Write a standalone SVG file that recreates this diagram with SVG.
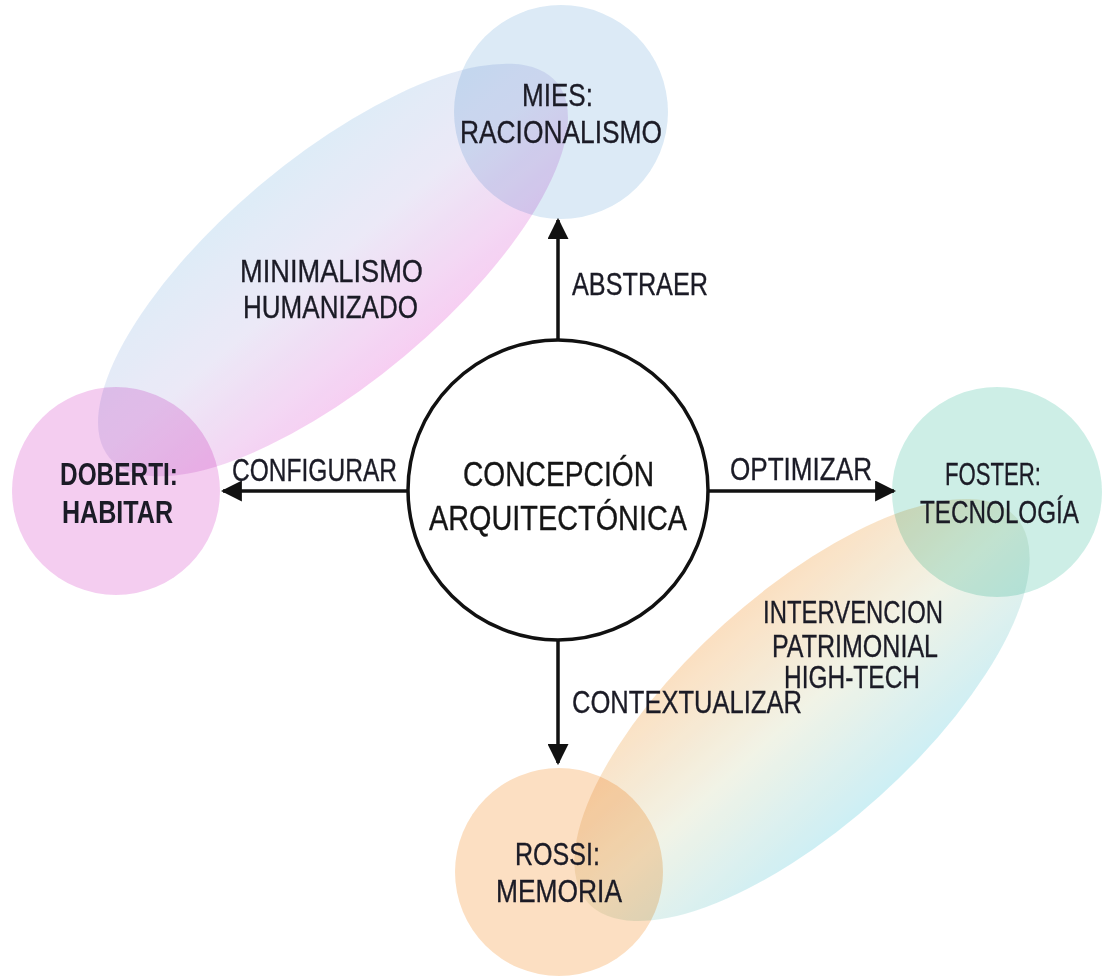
<svg xmlns="http://www.w3.org/2000/svg" width="1103" height="980" viewBox="0 0 1103 980">
  <defs>
    <linearGradient id="gradMin" gradientUnits="objectBoundingBox" x1="0" y1="0" x2="0" y2="1">
      <stop offset="0" stop-color="#d8e9f6"/>
      <stop offset="0.45" stop-color="#e8e6f6"/>
      <stop offset="1" stop-color="#f6c6f0"/>
    </linearGradient>
    <linearGradient id="gradTech" gradientUnits="objectBoundingBox" x1="0" y1="0" x2="0" y2="1">
      <stop offset="0" stop-color="#fbdab6"/>
      <stop offset="0.5" stop-color="#eff1e2"/>
      <stop offset="1" stop-color="#c4ecf3"/>
    </linearGradient>
    <marker id="arrow" viewBox="0 0 10 10" refX="9" refY="5" markerWidth="6" markerHeight="6" markerUnits="strokeWidth" orient="auto">
      <path d="M0,0 L10,5 L0,10 z" fill="#111"/>
    </marker>
    <style>
      .blob { mix-blend-mode: multiply; }
      .label { font-family: "Liberation Sans", Arial, sans-serif; font-size: 32px; fill: #1b1b26; stroke: #1b1b26; stroke-width: 0.35; }
      .bold { font-weight: bold; stroke-width: 0; }
      .center { font-size: 35px; fill: #151515; stroke: #151515; }
      .conn { stroke: #111; stroke-width: 3.5; fill: none; marker-end: url(#arrow); }
    </style>
  </defs>

  <rect width="1103" height="980" fill="#ffffff"/>

  <!-- overlapping theme zones -->
  <g id="zone-minimalismo">
    <ellipse class="blob" cx="333" cy="270" rx="292" ry="112" fill="url(#gradMin)" opacity="0.85" transform="rotate(-40 333 270)"/>
    <text class="label" x="240" y="282" textLength="183" lengthAdjust="spacingAndGlyphs">MINIMALISMO</text>
    <text class="label" x="243" y="318" textLength="175" lengthAdjust="spacingAndGlyphs">HUMANIZADO</text>
  </g>
  <g id="zone-hightech">
    <ellipse class="blob" cx="802" cy="710" rx="288" ry="116" fill="url(#gradTech)" opacity="0.85" transform="rotate(-42 802 710)"/>
    <text class="label" x="763" y="623" textLength="180" lengthAdjust="spacingAndGlyphs">INTERVENCION</text>
    <text class="label" x="772" y="657" textLength="166" lengthAdjust="spacingAndGlyphs">PATRIMONIAL</text>
    <text class="label" x="784" y="688" textLength="136" lengthAdjust="spacingAndGlyphs">HIGH-TECH</text>
  </g>

  <!-- architects -->
  <g id="node-mies">
    <circle class="blob" cx="561" cy="112" r="107" fill="#d8e8f5" opacity="0.9"/>
    <text class="label" x="522" y="106" textLength="71" lengthAdjust="spacingAndGlyphs">MIES:</text>
    <text class="label" x="460" y="143" textLength="202" lengthAdjust="spacingAndGlyphs">RACIONALISMO</text>
  </g>
  <g id="node-doberti">
    <circle class="blob" cx="116" cy="491" r="104" fill="#f3c8ef" opacity="0.9"/>
    <text class="label bold" x="60" y="485" textLength="118" lengthAdjust="spacingAndGlyphs">DOBERTI:</text>
    <text class="label bold" x="62" y="523" textLength="111" lengthAdjust="spacingAndGlyphs">HABITAR</text>
  </g>
  <g id="node-foster">
    <circle class="blob" cx="997" cy="492" r="105" fill="#c8ede4" opacity="0.9"/>
    <text class="label" x="945" y="485" textLength="96" lengthAdjust="spacingAndGlyphs">FOSTER:</text>
    <text class="label" x="920" y="523" textLength="159" lengthAdjust="spacingAndGlyphs">TECNOLOGÍA</text>
  </g>
  <g id="node-rossi">
    <circle class="blob" cx="559" cy="872" r="104" fill="#fcdcbc" opacity="0.9"/>
    <text class="label" x="515" y="865" textLength="85" lengthAdjust="spacingAndGlyphs">ROSSI:</text>
    <text class="label" x="496" y="902" textLength="126" lengthAdjust="spacingAndGlyphs">MEMORIA</text>
  </g>

  <!-- connectors from the central concept -->
  <g id="connectors">
    <line class="conn" x1="558" y1="340" x2="558" y2="220"/>
    <line class="conn" x1="408" y1="491" x2="223" y2="491"/>
    <line class="conn" x1="708" y1="491" x2="894" y2="491"/>
    <line class="conn" x1="558" y1="640" x2="558" y2="763"/>
    <text class="label" x="572" y="295" textLength="136" lengthAdjust="spacingAndGlyphs">ABSTRAER</text>
    <text class="label" x="232" y="481" textLength="165" lengthAdjust="spacingAndGlyphs">CONFIGURAR</text>
    <text class="label" x="730" y="480" textLength="142" lengthAdjust="spacingAndGlyphs">OPTIMIZAR</text>
    <text class="label" x="572" y="713" textLength="230" lengthAdjust="spacingAndGlyphs">CONTEXTUALIZAR</text>
  </g>

  <g id="node-concepcion">
    <circle cx="558" cy="490" r="150" fill="#ffffff" stroke="#111" stroke-width="3.5"/>
    <text class="label center" x="463" y="486" textLength="191" lengthAdjust="spacingAndGlyphs">CONCEPCIÓN</text>
    <text class="label center" x="429" y="530" textLength="258" lengthAdjust="spacingAndGlyphs">ARQUITECTÓNICA</text>
  </g>
</svg>
